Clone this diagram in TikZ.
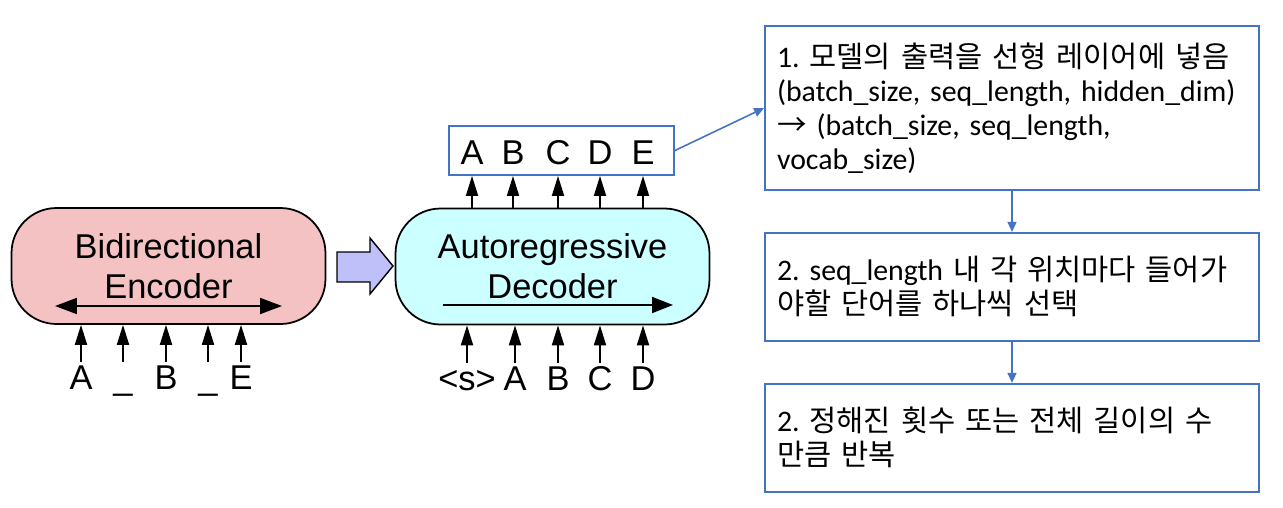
\documentclass[tikz,border=0pt]{standalone}
\usepackage{fontspec}
\setmainfont{Liberation Sans}
\newfontfamily\kofont{Noto Sans CJK KR}[Scale=1.05]
\newfontfamily\latfont{Carlito}[Scale=1.06]
\usepackage{xcolor}
\usetikzlibrary{arrows.meta,positioning}

\definecolor{encpink}{RGB}{244,194,194}
\definecolor{deccyan}{RGB}{204,255,255}
\definecolor{arrowlav}{RGB}{191,191,250}
\definecolor{boxblue}{RGB}{68,114,196}

\begin{document}
\begin{tikzpicture}[
  x=0.02cm, y=-0.02cm,
  node distance=0.82cm,
  roundbox/.style={draw,line width=1pt,rounded corners=0.9cm,minimum width=6.28cm,minimum height=2.32cm,
    align=center,font=\fontsize{19.6}{22.8}\selectfont},
  token/.style={anchor=base,inner sep=0.04cm,text height=0.5cm,text depth=0pt,font=\fontsize{19.6}{22.8}\selectfont},
  tokarrow/.style={-{Triangle[length=0.4cm,width=0.24cm]},line width=1.1pt},
  innerarrow/.style={line width=1.1pt},
  outbox/.style={draw=boxblue,line width=1.1pt,minimum width=4.5cm,minimum height=0.98cm},
  stepbox/.style={draw=boxblue,line width=1.1pt,minimum width=9.88cm,text width=9.4cm,inner xsep=0.24cm,
    align=left,font=\latfont\fontsize{16}{19.3}\selectfont\frenchspacing},
  flowarrow/.style={-{Triangle[length=0.2cm,width=0.18cm]},draw=boxblue,fill=boxblue,line width=0.9pt}
]
\useasboundingbox (0,0) rectangle (1283,507);

% encoder and decoder
\node[roundbox,fill=encpink] (enc) at (168.5,266) {Bidirectional\\Encoder};
\node[roundbox,fill=deccyan] (dec) at (552.5,266.5) {Autoregressive\\Decoder};
\draw[innerarrow,{Triangle[length=0.44cm,width=0.32cm]}-{Triangle[length=0.44cm,width=0.32cm]}]
  ([shift={(-113.5,40)}]enc.center) -- ([shift={(113.5,40)}]enc.center);
\draw[innerarrow,-{Triangle[length=0.42cm,width=0.32cm]}]
  ([shift={(-109.5,38.5)}]dec.center) -- ([shift={(120.5,38.5)}]dec.center);

% block arrow between them
\draw[fill=arrowlav,line width=0.8pt] (337,252) -- (370,252) -- (370,238) -- (393,266)
  -- (370,294) -- (370,282) -- (337,282) -- cycle;

% input tokens
\foreach \lbl/\xpos [count=\i] in {A/81,\_/123,B/166,\_/208,E/241} {
  \node[token] (ein\i) at (\xpos,389) {\lbl};
  \draw[tokarrow] (ein\i.north) -- (ein\i |- enc.south);
}
\foreach \lbl/\xpos [count=\i] in {<s>/467,A/515,B/558,C/600,D/643} {
  \node[token] (din\i) at (\xpos,390) {\lbl};
  \draw[tokarrow] (din\i.north) -- (din\i |- dec.south);
}

% output tokens
\node[outbox] (obox) at (561.5,150.5) {};
\foreach \lbl/\xpos [count=\i] in {A/472,B/513,C/558,D/600,E/643} {
  \node[token] (out\i) at (\xpos,164) {\lbl};
  \draw[tokarrow] (out\i |- dec.north) -- (out\i |- obox.south);
}

% steps
\node[stepbox,minimum height=3.28cm] (stepone) at (1012,108)
  {1. {\kofont 모델의 출력을 선형 레이어에 넣음}\\(batch\_size, seq\_length, hidden\_dim)\\{\kofont →} (batch\_size, seq\_length,\\vocab\_size)};
\node[stepbox,minimum height=2.16cm,below=of stepone] (steptwo)
  {2. seq\_length {\kofont 내 각 위치마다 들어가}\\{\kofont 야할 단어를 하나씩 선택}};
\node[stepbox,minimum height=2.16cm,below=of steptwo] (stepthree)
  {2. {\kofont 정해진 횟수 또는 전체 길이의 수}\\{\kofont 만큼 반복}};

\draw[flowarrow] (obox.east) -- (stepone.west);
\draw[flowarrow] (stepone) -- (steptwo);
\draw[flowarrow] (steptwo) -- (stepthree);
\end{tikzpicture}
\end{document}
